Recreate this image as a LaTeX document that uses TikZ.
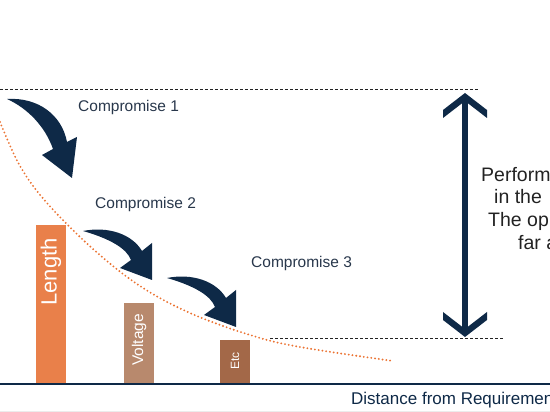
\documentclass[tikz,border=0pt]{standalone}
\usepackage{fontspec}
\setmainfont{Liberation Sans}
\usetikzlibrary{positioning}
\definecolor{navy}{RGB}{14,41,71}
\definecolor{slate}{RGB}{40,55,75}
\definecolor{lengthc}{RGB}{233,128,74}
\definecolor{voltc}{RGB}{184,137,109}
\definecolor{etcc}{RGB}{163,104,72}
\definecolor{trendc}{RGB}{235,115,50}
\definecolor{ink}{RGB}{34,34,34}
\tikzset{
  bar/.style={draw=none,minimum width=30pt,inner sep=0pt,anchor=south},
  barlabel/.style={text=white,rotate=90,inner sep=0pt},
  step label/.style={text=slate,font=\fontsize{15.5}{18}\selectfont,inner sep=0pt,anchor=base west},
  note/.style={text=ink,font=\fontsize{19.5}{22}\selectfont,inner sep=0pt,anchor=base west},
  guide/.style={draw=ink,line width=0.8pt,dash pattern=on 3.3pt off 1.7pt},
  trend/.style={draw=trendc,line width=2.1pt,line cap=round,dash pattern=on 0pt off 3.8pt},
  bend arrow/.pic={
    \fill[navy] (0,0) .. controls (25,5) and (49,-3) .. (59,-20) -- (69,-12)
      -- (69,-49) -- (37,-37) -- (48,-29) .. controls (44,-18) and (28,-8) .. (0,0) -- cycle;
  },
  chevron/.pic={
    \fill[navy] (0,0) -- (-22,-17) -- (-22,-25) -- (0,-8) -- (22,-25) -- (22,-17) -- cycle;
  }
}
\begin{document}
\begin{tikzpicture}[x=1pt,y=1pt]
\useasboundingbox (0,0) rectangle (550,412);
% reference levels
\coordinate (top l) at (0,323);
\coordinate (top r) at (478,323);
\coordinate (low l) at (270,74);
\coordinate (low r) at (504,74);
\draw[guide] (top l) -- (top r);
\draw[guide] (low l) -- (low r);
% axis
\coordinate (axis l) at (0,28);
\coordinate (axis r) at (550,28);
\draw[navy,line width=2pt] (axis l) -- (axis r);
\draw[gray!15,line width=0.8pt] (0,1) -- (550,1);
% bars
\node[bar,fill=lengthc,minimum height=158pt] (length) at (51,29) {};
\node[bar,fill=voltc,minimum height=80pt] (voltage) at (139,29) {};
\node[bar,fill=etcc,minimum height=43pt] (etc) at (235,29) {};
\node[barlabel,font=\fontsize{22}{24}\selectfont] (length txt) at (51,140) {Length};
\node[barlabel,font=\fontsize{15.5}{17}\selectfont] (voltage txt) at (139,72) {Voltage};
\node[barlabel,font=\fontsize{12}{14}\selectfont] (etc txt) at (235,51) {Etc};
% trend
\draw[trend] plot[smooth,tension=0.6] coordinates {(0,290) (20,246) (47,209) (93,163) (140,126) (190,99) (250,77) (300,65) (393,51)};
% compromises
\node[step label] (c1) at (78,300) {Compromise 1};
\node[step label] (c2) at (95,203) {Compromise 2};
\node[step label] (c3) at (251,144) {Compromise 3};
\fill[navy] (7,313) .. controls (38,315) and (62,297) .. (67,270) -- (77,275) -- (72,234)
  -- (42,257) -- (53,263) .. controls (45,286) and (27,304) .. (7,313) -- cycle;
\pic at (83,181) {bend arrow};
\pic at (167,134) {bend arrow};
% gap
\coordinate (gap top) at (465,319);
\coordinate (gap bot) at (465,75);
\draw[navy,line width=5.5pt] ([yshift=-6pt]gap top) -- ([yshift=6pt]gap bot);
\pic at (gap top) {chevron};
\pic[rotate=180] at (gap bot) {chevron};
\node[note] (n1) at (481,230) {Perform};
\node[note] (n2) at (494,208) {in the};
\node[note] (n3) at (488,185) {The op};
\node[note] (n4) at (518,162) {far a};
\node[text=navy,font=\fontsize{17}{19}\selectfont,inner sep=0pt,anchor=base west] (xlabel) at (351,7) {Distance from Requiremen};
\end{tikzpicture}
\end{document}
